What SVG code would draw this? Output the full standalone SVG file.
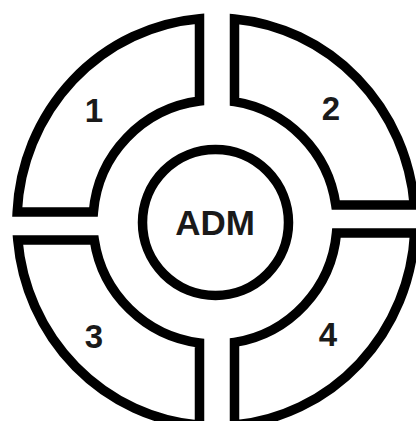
<svg xmlns="http://www.w3.org/2000/svg" width="416" height="421" viewBox="0 0 416 421">
<style>
.seg{fill:#fff;stroke:#000;stroke-width:9.5;stroke-linejoin:miter}
.lbl{font-family:"Liberation Sans",Arial,sans-serif;font-weight:bold;fill:#1a1a1a;text-anchor:middle}
</style>
<rect width="416" height="421" fill="#fff"/>
<g id="seg1"><path class="seg" d="M199.5,101 L199.5,18.7 A199,204 0 0 0 17.2,212 L93.4,212 A122,122 0 0 1 199.5,101 Z"/><text class="lbl" x="94" y="122" font-size="33">1</text></g>
<g id="seg2"><path class="seg" d="M234.5,101.6 L234.5,18.9 A199,204 0 0 1 414.3,205 L335.8,205 A122,122 0 0 0 234.5,101.6 Z"/><text class="lbl" x="331" y="120" font-size="33">2</text></g>
<g id="seg3"><path class="seg" d="M94.3,240 L17.8,240 A199,204 0 0 0 199.5,425.3 L199.5,343 A122,122 0 0 1 94.3,240 Z"/><text class="lbl" x="94" y="348" font-size="33">3</text></g>
<g id="seg4"><path class="seg" d="M234.5,342.4 L234.5,425.1 A199,204 0 0 0 414.7,233 L336.5,233 A122,122 0 0 1 234.5,342.4 Z"/><text class="lbl" x="328" y="346" font-size="33">4</text></g>
<g id="adm"><circle class="seg" cx="215.5" cy="222.5" r="73"/><text class="lbl" x="215" y="235" font-size="35">ADM</text></g>
<g id="connectors"/>
</svg>
